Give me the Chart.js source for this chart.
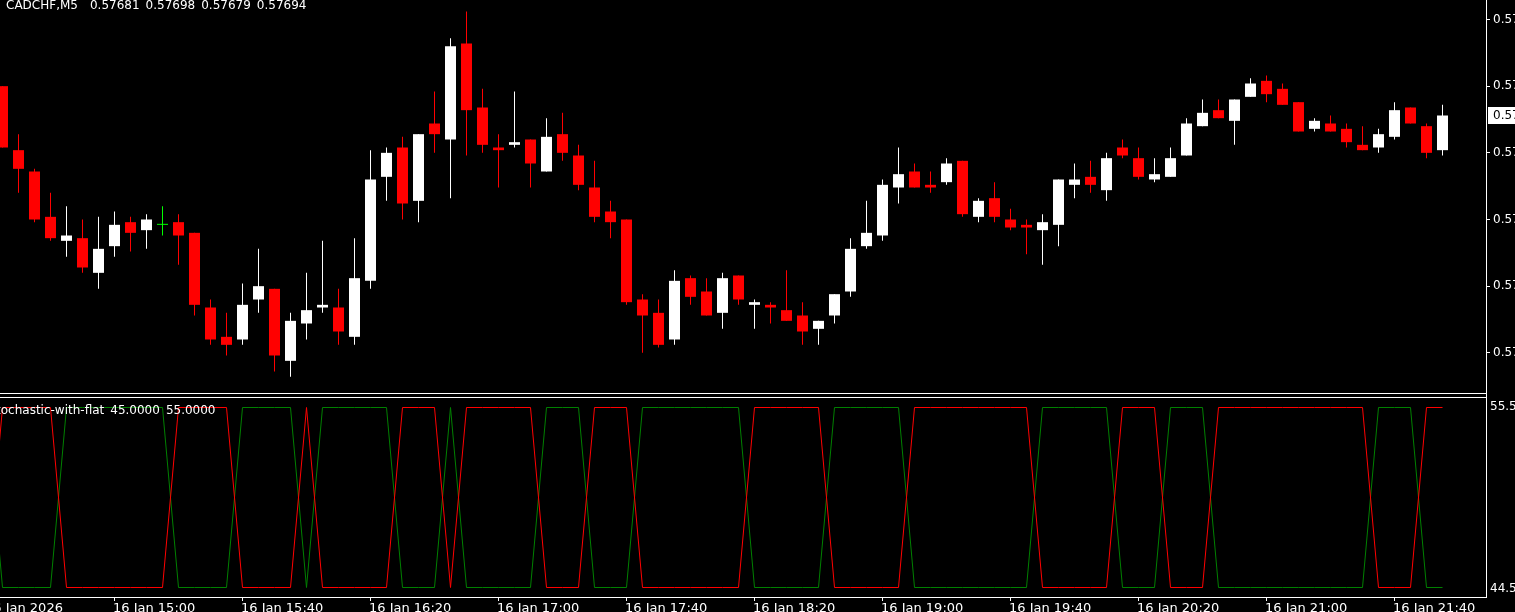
<!DOCTYPE html>
<html>
<head>
<meta charset="utf-8">
<style>
html,body{margin:0;padding:0;background:#000;overflow:hidden}
canvas{display:block}
</style>
<script src="https://cdn.jsdelivr.net/npm/chart.js@4.4.1/dist/chart.umd.min.js"></script>
</head>
<body>
<canvas id="c" width="1515" height="612"></canvas>
<script>
// ---------------- data ----------------
const symbolName = "CADCHF,M5";
const indicatorName = "Stochastic-with-flat";

// bars 0..90 (M5, 16 Jan 2026 14:25 .. 21:55)
const opens = [
0.57705,0.57681,0.57673,0.57656,0.57647,0.57648,0.57635,0.57645,0.57654,0.57651,
0.57653,0.57654,0.57650,0.57622,0.57611,0.57610,0.57625,0.57629,0.57602,0.57616,
0.57622,0.57622,0.57611,0.57632,0.57671,0.57682,0.57662,0.57691,0.57685,0.57721,
0.57697,0.57682,0.57683,0.57685,0.57673,0.57687,0.57679,0.57667,0.57658,0.57655,
0.57625,0.57620,0.57610,0.57633,0.57628,0.57620,0.57634,0.57623,0.57623,0.57621,
0.57619,0.57614,0.57619,0.57628,0.57645,0.57649,0.57667,0.57673,0.57668,0.57669,
0.57677,0.57656,0.57663,0.57655,0.57653,0.57651,0.57653,0.57668,0.57671,0.57666,
0.57682,0.57678,0.57670,0.57671,0.57679,0.57690,0.57696,0.57692,0.57701,0.57707,
0.57704,0.57699,0.57689,0.57691,0.57689,0.57683,0.57682,0.57686,0.57697,0.57690,
0.57681];
const highs = [
0.57705,0.57687,0.57674,0.57665,0.57660,0.57655,0.57656,0.57658,0.57656,0.57657,
0.57660,0.57657,0.57650,0.57625,0.57620,0.57631,0.57644,0.57629,0.57620,0.57635,
0.57647,0.57629,0.57648,0.57681,0.57682,0.57686,0.57687,0.57703,0.57723,0.57733,
0.57704,0.57687,0.57703,0.57685,0.57693,0.57695,0.57683,0.57677,0.57662,0.57655,
0.57627,0.57625,0.57636,0.57634,0.57633,0.57635,0.57634,0.57625,0.57624,0.57636,
0.57624,0.57617,0.57627,0.57648,0.57662,0.57670,0.57682,0.57676,0.57673,0.57678,
0.57677,0.57663,0.57669,0.57659,0.57655,0.57657,0.57670,0.57676,0.57677,0.57680,
0.57685,0.57682,0.57678,0.57682,0.57693,0.57700,0.57700,0.57700,0.57708,0.57709,
0.57706,0.57699,0.57693,0.57694,0.57691,0.57690,0.57689,0.57699,0.57697,0.57691,
0.57698];
const lows = [
0.57682,0.57665,0.57654,0.57647,0.57641,0.57635,0.57629,0.57641,0.57643,0.57644,
0.57649,0.57638,0.57619,0.57608,0.57604,0.57608,0.57620,0.57598,0.57596,0.57610,
0.57620,0.57608,0.57608,0.57629,0.57662,0.57655,0.57654,0.57680,0.57663,0.57679,
0.57680,0.57667,0.57682,0.57667,0.57673,0.57677,0.57666,0.57654,0.57648,0.57623,
0.57605,0.57607,0.57608,0.57623,0.57619,0.57614,0.57623,0.57614,0.57616,0.57617,
0.57608,0.57608,0.57616,0.57626,0.57644,0.57647,0.57661,0.57667,0.57665,0.57668,
0.57656,0.57654,0.57654,0.57651,0.57642,0.57638,0.57645,0.57663,0.57665,0.57662,
0.57678,0.57670,0.57669,0.57671,0.57679,0.57690,0.57693,0.57683,0.57701,0.57699,
0.57698,0.57688,0.57688,0.57688,0.57682,0.57681,0.57680,0.57685,0.57691,0.57678,
0.57679];
const closes = [
0.57682,0.57674,0.57655,0.57648,0.57649,0.57637,0.57644,0.57653,0.57650,0.57655,
0.57653,0.57649,0.57623,0.57610,0.57608,0.57623,0.57630,0.57604,0.57617,0.57621,
0.57623,0.57613,0.57633,0.57670,0.57680,0.57661,0.57687,0.57687,0.57720,0.57696,
0.57683,0.57681,0.57684,0.57676,0.57686,0.57680,0.57668,0.57656,0.57654,0.57624,
0.57619,0.57608,0.57632,0.57626,0.57619,0.57633,0.57625,0.57624,0.57622,0.57617,
0.57613,0.57617,0.57627,0.57644,0.57650,0.57668,0.57672,0.57667,0.57667,0.57676,
0.57657,0.57662,0.57656,0.57652,0.57652,0.57654,0.57670,0.57670,0.57668,0.57678,
0.57679,0.57671,0.57672,0.57678,0.57691,0.57695,0.57693,0.57700,0.57706,0.57702,
0.57698,0.57688,0.57692,0.57688,0.57684,0.57681,0.57687,0.57696,0.57691,0.57680,
0.57694];

// indicator buffers, bars -1..90
const indicatorFirstBar = -1;
const stochRed = [45,
55,55,55,55,45,45,45,45,45,45,
45,55,55,55,55,45,45,45,45,55,
45,45,45,45,45,55,55,55,45,55,
55,55,55,55,45,45,45,55,55,55,
45,45,45,45,45,45,45,55,55,55,
55,55,45,45,45,45,45,55,55,55,
55,55,55,55,55,45,45,45,45,45,
55,55,55,45,45,45,55,55,55,55,
55,55,55,55,55,55,45,45,45,55,
55];
const stochGreen = [55,
45,45,45,45,55,55,55,55,55,55,
55,45,45,45,45,55,55,55,55,45,
55,55,55,55,55,45,45,45,55,45,
45,45,45,45,55,55,55,45,45,45,
55,55,55,55,55,55,55,45,45,45,
45,45,55,55,55,55,55,45,45,45,
45,45,45,45,45,55,55,55,55,55,
45,45,45,55,55,55,45,45,45,45,
45,45,45,45,45,45,55,55,55,45,
45];

// axis labels
const timeTickBars = [-1,7,15,23,31,39,47,55,63,71,79,87];
const timeTickLabels = ["16 Jan 2026","16 Jan 15:00","16 Jan 15:40","16 Jan 16:20","16 Jan 17:00",
  "16 Jan 17:40","16 Jan 18:20","16 Jan 19:00","16 Jan 19:40","16 Jan 20:20","16 Jan 21:00","16 Jan 21:40"];
const priceTicks = [0.57730,0.57705,0.57680,0.57655,0.57630,0.57605];
const indicatorScaleLabels = [55.5,44.5];

// ---------------- layout ----------------
const W = 1515, H = 612;
const BAR_PX = 16, FIRST_BAR_PX = 2.5;
const ANCHOR_PRICE = 0.57694, ANCHOR_PX = 115.5, PX_PER_PRICE = 266666.67;
const IND_TOP_VAL = 55, IND_TOP_PX = 407.5, IND_PX_PER_UNIT = 18;
const FONT = '12px "DejaVu Sans"';
const TIME_FONT = '13px "DejaVu Sans"';
const SPACE_W = 6;

const xMin = -FIRST_BAR_PX / BAR_PX;
const xMax = (W - FIRST_BAR_PX) / BAR_PX;
const yMax = ANCHOR_PRICE + ANCHOR_PX / PX_PER_PRICE;
const yMin = ANCHOR_PRICE - (H - ANCHOR_PX) / PX_PER_PRICE;
const y2Max = IND_TOP_VAL + IND_TOP_PX / IND_PX_PER_UNIT;
const y2Min = IND_TOP_VAL - (H - IND_TOP_PX) / IND_PX_PER_UNIT;

function candleColor(i){
  if (closes[i] > opens[i]) return '#FFFFFF';
  if (closes[i] < opens[i]) return '#FF0000';
  return '#00FF00';
}

// text with the terminal's wider spaces
function drawSpaced(ctx, text, x, y, align){
  const words = text.split(' ');
  const widths = words.map(w => ctx.measureText(w).width);
  const total = widths.reduce((a,b)=>a+b,0) + (words.length-1)*SPACE_W;
  let cx = align === 'right' ? x - total : x;
  ctx.textAlign = 'left';
  words.forEach((w,i)=>{
    if (w) ctx.fillText(w, cx, y);
    cx += widths[i] + SPACE_W;
  });
}

const bodyData = opens.map((o,i)=>({x:i, y:[o, closes[i]]}));
const wickData = lows.map((l,i)=>({x:i, y:[l, highs[i]]}));
const redData = stochRed.map((v,i)=>({x:i+indicatorFirstBar, y:v}));
const greenData = stochGreen.map((v,i)=>({x:i+indicatorFirstBar, y:v}));

const mt4Frame = {
  id:'mt4Frame',
  beforeDraw(chart){
    const ctx = chart.ctx;
    ctx.save(); ctx.fillStyle = '#000'; ctx.fillRect(0,0,W,H); ctx.restore();
  },
  afterDraw(chart){
    const ctx = chart.ctx;
    const xs = chart.scales.x, ys = chart.scales.y, y2 = chart.scales.y2;
    ctx.save();
    ctx.fillStyle = '#FFFFFF';
    // frames
    ctx.fillRect(0,393,1487,1);
    ctx.fillRect(0,397,1487,1);
    ctx.fillRect(0,597,1487,1);
    ctx.fillRect(1486,0,1,598);
    ctx.font = FONT;
    // price axis
    ctx.textAlign = 'left'; ctx.textBaseline = 'middle';
    priceTicks.forEach(p=>{
      const py = ys.getPixelForValue(p);
      ctx.fillRect(1487, Math.floor(py), 3, 1);
      ctx.fillText(p.toFixed(5), 1493, py);
    });
    // current price box
    const last = closes.length - 1;
    const cy = ys.getPixelForValue(closes[last]);
    ctx.fillRect(1488, Math.round(cy) - 8, W - 1488, 17);
    ctx.fillStyle = '#000000';
    ctx.fillText(closes[last].toFixed(5), 1493, cy);
    ctx.fillStyle = '#FFFFFF';
    // indicator axis labels
    ctx.textBaseline = 'top';
    ctx.fillText(indicatorScaleLabels[0].toFixed(4), 1490, y2.getPixelForValue(indicatorScaleLabels[0]) + 2);
    ctx.textBaseline = 'bottom';
    ctx.fillText(indicatorScaleLabels[1].toFixed(4), 1490, y2.getPixelForValue(indicatorScaleLabels[1]) - 1.5);
    // titles
    ctx.textBaseline = 'alphabetic';
    const title = symbolName + '  ' + [opens[last],highs[last],lows[last],closes[last]].map(v=>v.toFixed(5)).join(' ');
    drawSpaced(ctx, title, 6, 9, 'left');
    const ind = indicatorName + ' ' + stochGreen[stochGreen.length-1].toFixed(4) + ' ' + stochRed[stochRed.length-1].toFixed(4);
    drawSpaced(ctx, ind, 215.5, 414, 'right');
    // time axis
    ctx.font = TIME_FONT;
    ctx.textAlign = 'left';
    timeTickBars.forEach((b,i)=>{
      const px = Math.floor(xs.getPixelForValue(b));
      ctx.fillRect(px, 597, 1, 4);
      ctx.fillText(timeTickLabels[i], px - 1, 612);
    });
    ctx.restore();
  }
};

new Chart(document.getElementById('c'), {
  type: 'bar',
  data: {
    datasets: [
      { type:'bar', label:'wicks', data: wickData, xAxisID:'x', yAxisID:'y', grouped:false,
        barThickness:1, maxBarThickness:1, backgroundColor:(c)=>candleColor(c.dataIndex),
        borderWidth:0, inflateAmount:0, order:3 },
      { type:'bar', label:'bodies', data: bodyData, xAxisID:'x', yAxisID:'y', grouped:false,
        barThickness:11, maxBarThickness:11, minBarLength:1, backgroundColor:(c)=>candleColor(c.dataIndex),
        borderWidth:0, inflateAmount:0, order:2 },
      { type:'line', label:'green', data: greenData, xAxisID:'x', yAxisID:'y2', borderColor:'#008000',
        borderWidth:1, pointRadius:0, tension:0, fill:false, order:1 },
      { type:'line', label:'red', data: redData, xAxisID:'x', yAxisID:'y2', borderColor:'#FF0000',
        borderWidth:1, pointRadius:0, tension:0, fill:false, order:0 }
    ]
  },
  options: {
    responsive:false, animation:false, devicePixelRatio:1,
    layout:{ padding:0 },
    plugins:{ legend:{display:false}, tooltip:{enabled:false}, title:{display:false} },
    scales:{
      x:{ type:'linear', display:false, min:xMin, max:xMax, offset:false, grid:{display:false} },
      y:{ type:'linear', display:false, min:yMin, max:yMax, beginAtZero:false, grid:{display:false} },
      y2:{ type:'linear', display:false, min:y2Min, max:y2Max, beginAtZero:false, grid:{display:false} }
    }
  },
  plugins:[mt4Frame]
});
</script>
</body>
</html>
